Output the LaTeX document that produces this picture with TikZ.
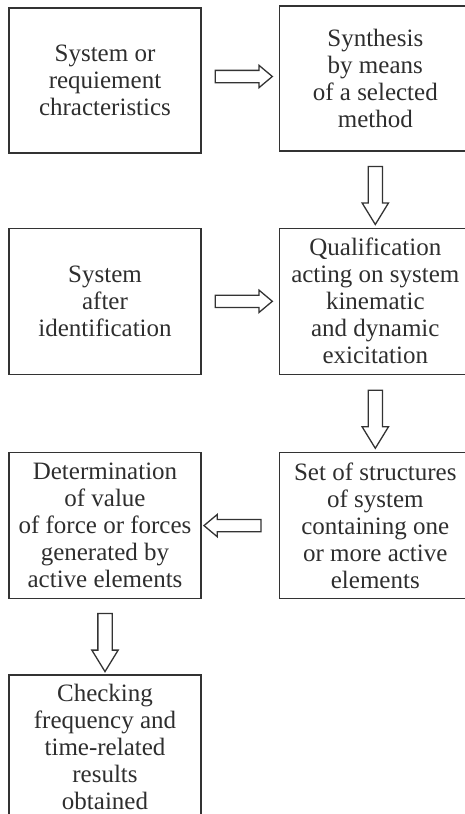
\documentclass[tikz,border=0pt]{standalone}
\usepackage{fontspec}
\setmainfont{Liberation Serif}
\usepackage{xcolor}
\definecolor{ink}{HTML}{2E2E2E}
\definecolor{frame}{HTML}{333333}
\usepackage{tikz}
\usetikzlibrary{positioning, shapes.arrows}

\begin{document}
\begin{tikzpicture}[
        x=1pt, y=1pt,
        stage/.style={draw=frame, line width=1.3pt, rectangle, minimum width=192pt, minimum height=146pt, inner sep=0pt, align=center, text=ink, font=\fontsize{25}{27}\selectfont},
        harrow/.style={draw=frame, line width=1.3pt, single arrow, inner xsep=0pt, inner ysep=5.5pt, minimum height=57pt, minimum width=0pt, single arrow head extend=5pt, single arrow tip angle=80},
        varrow/.style={harrow, inner ysep=6.5pt, minimum height=58pt, single arrow head extend=6pt, single arrow tip angle=63}
    ]
        \clip (0,0) rectangle (465,-814);

        % Top row
        \node[stage, minimum height=145pt] (req) at (105,-80.5) {System or\\requiement\\chracteristics};
        \node[stage, minimum height=145pt, right=77pt of req, yshift=2pt] (synth) {Synthesis\\by means\\of a selected\\method};

        % Middle row
        \node[stage, below=74pt of req] (ident) {System\\after\\identification};
        \node[stage, right=77pt of ident] (qual) {Qualification\\acting on system\\kinematic\\and dynamic\\exicitation};

        % Bottom rows
        \node[stage, below=77pt of ident] (force) {Determination\\of value\\of force or forces\\generated by\\active elements};
        \node[stage, right=77pt of force] (struct) {Set of structures\\of system\\containing one\\or more active\\elements};
        \node[stage, minimum height=144pt, below=75pt of force] (check) {Checking\\frequency and\\time-related\\results\\obtained};

        % Block arrows
        \path (req.east) -- node[harrow, yshift=3pt] (a1) {} (synth.west);
        \path (synth.south) -- node[varrow, rotate=-90] (a2) {} (qual.north);
        \path (ident.east) -- node[harrow] (a3) {} (qual.west);
        \path (qual.south) -- node[varrow, rotate=-90] (a4) {} (struct.north);
        \path (struct.west) -- node[harrow, rotate=180, xshift=4pt] (a5) {} (force.east);
        \path (force.south) -- node[varrow, rotate=-90] (a6) {} (check.north);
    \end{tikzpicture}
\end{document}
